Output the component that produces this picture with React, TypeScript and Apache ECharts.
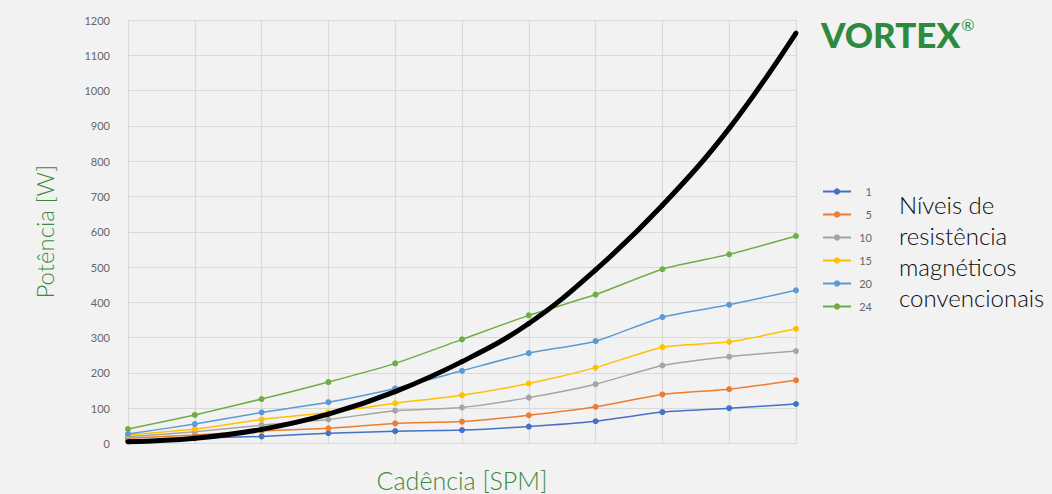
import React, { useEffect, useRef } from "react";
import * as echarts from "echarts";

const categories = ["1", "2", "3", "4", "5", "6", "7", "8", "9", "10", "11"];
const levelNames = ["1", "5", "10", "15", "20", "24"];
const level1 = [8, 15, 20, 29, 35, 38, 48, 63, 89, 100, 112];
const level5 = [15, 24, 36, 43, 57, 62, 80, 104, 139, 154, 179];
const level10 = [19, 33, 52, 68, 93, 102, 130, 168, 221, 246, 262];
const level15 = [24, 41, 68, 88, 114, 137, 170, 215, 273, 288, 325];
const level20 = [27, 55, 88, 117, 156, 206, 256, 290, 358, 393, 434];
const level24 = [41, 81, 126, 174, 227, 295, 363, 422, 494, 536, 588];
const vortex = [5, 15, 40, 83, 147, 232, 340, 492, 675, 893, 1163];
const colors = ["#4472C4", "#ED7D31", "#A5A5A5", "#FFC000", "#5B9BD5", "#70AD47"];
const yTicks = { min: 0, max: 1200, interval: 100 };

const FONT = "Lato, 'Noto Sans', sans-serif";

export default function App() {
  const ref = useRef<HTMLDivElement>(null);
  useEffect(() => {
    if (!ref.current) return;
    const chart = echarts.init(ref.current, undefined, { renderer: "svg" });
    const levels = [level1, level5, level10, level15, level20, level24];
    const series: any[] = levels.map((d, i) => ({
      name: levelNames[i],
      type: "line",
      data: d,
      smooth: 0.2,
      symbol: "circle",
      symbolSize: 6,
      lineStyle: { width: 1.5, color: colors[i] },
      itemStyle: { color: colors[i] },
    }));
    series.push({
      name: "VORTEX",
      type: "line",
      data: vortex,
      smooth: 0.4,
      symbol: "circle",
      symbolSize: 5,
      lineStyle: { width: 5, color: "#000" },
      itemStyle: { color: "#000" },
      z: 10,
    });
    chart.setOption({
      animation: false,
      backgroundColor: "#f2f2f2",
      textStyle: { fontFamily: FONT },
      grid: { left: 128, right: 256, top: 20, bottom: 50.5, containLabel: false, outerBoundsMode: "none" },
      xAxis: {
        type: "category",
        data: categories,
        boundaryGap: false,
        axisLine: { show: false },
        axisTick: { show: false },
        axisLabel: { show: false },
        splitLine: { show: true, lineStyle: { color: "#d9d9d9", width: 1.2 } },
        name: "Cadência [SPM]",
        nameLocation: "middle",
        nameGap: 24,
        nameTextStyle: { color: "#3a8a3e", fontSize: 25, fontFamily: FONT, fontWeight: 300 },
      },
      yAxis: {
        type: "value",
        min: yTicks.min,
        max: yTicks.max,
        interval: yTicks.interval,
        axisLine: { show: false },
        axisTick: { show: false },
        axisLabel: { color: "#666", fontSize: 11, margin: 18, fontFamily: FONT, formatter: (v: number) => String(v) },
        splitLine: { show: true, lineStyle: { color: "#d9d9d9", width: 1.2 } },
        name: "Potência [W]",
        nameLocation: "middle",
        nameGap: 72,
        nameTextStyle: { color: "#3a8a3e", fontSize: 24, fontFamily: FONT, fontWeight: 300 },
      },
      legend: {
        data: levelNames,
        orient: "vertical",
        left: 822,
        top: 186,
        padding: 0,
        itemWidth: 28,
        itemHeight: 8,
        itemGap: 12,
        formatter: (n: string) => `{r|${n}}`,
        textStyle: {
          color: "#666",
          fontSize: 11,
          fontFamily: FONT,
          rich: { r: { width: 16, align: "right", fontSize: 11, color: "#666", fontFamily: FONT } },
        },
      },
      graphic: [
        {
          type: "text",
          left: 821,
          top: 16,
          style: {
            text: "{a|VORTEX}{b|®}",
            rich: {
              a: { fill: "#2e8a3c", font: `900 35px ${FONT}`, verticalAlign: "top" },
              b: { fill: "#2e8a3c", font: `16px ${FONT}`, verticalAlign: "top", padding: [0, 0, 14, 1] },
            },
          },
        },
        {
          type: "text",
          left: 899,
          top: 189,
          style: {
            text: "Níveis de\nresistência\nmagnéticos\nconvencionais",
            fill: "#0a0a0a",
            font: `300 24px ${FONT}`,
            lineHeight: 31,
          },
        },
      ],
      series,
    });
    return () => chart.dispose();
  }, []);
  return <div ref={ref} style={{ width: 1052, height: 494, position: "absolute", left: 0, top: 0 }} />;
}
